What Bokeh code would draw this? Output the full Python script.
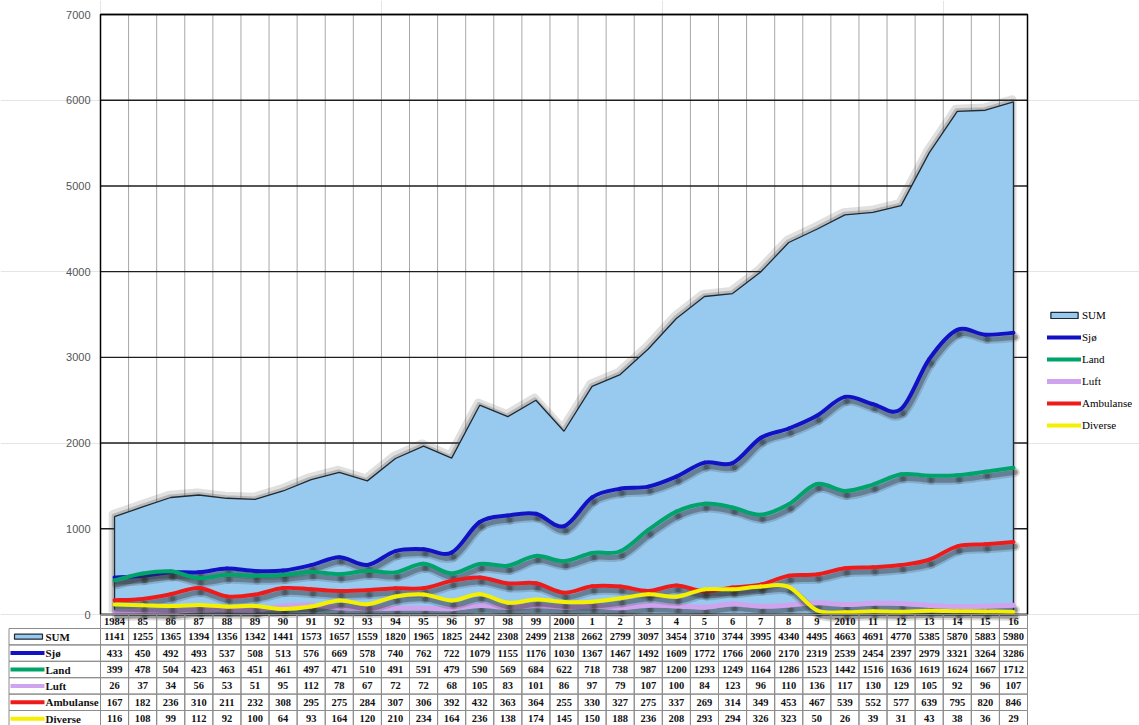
import numpy as np
from bokeh.plotting import figure
from bokeh.models import Range1d, Legend, LegendItem
from bokeh.core.properties import value
from bokeh.embed import file_html
from bokeh.resources import INLINE

# ---------------- data ----------------
years = ["1984", "85", "86", "87", "88", "89", "90", "91", "92", "93", "94", "95",
         "96", "97", "98", "99", "2000", "1", "2", "3", "4", "5", "6", "7", "8", "9",
         "2010", "11", "12", "13", "14", "15", "16"]
sum_total = [1141, 1255, 1365, 1394, 1356, 1342, 1441, 1573, 1657, 1559, 1820, 1965,
             1825, 2442, 2308, 2499, 2138, 2662, 2799, 3097, 3454, 3710, 3744, 3995,
             4340, 4495, 4663, 4691, 4770, 5385, 5870, 5883, 5980]
sjo = [433, 450, 492, 493, 537, 508, 513, 576, 669, 578, 740, 762, 722, 1079, 1155,
       1176, 1030, 1367, 1467, 1492, 1609, 1772, 1766, 2060, 2170, 2319, 2539, 2454,
       2397, 2979, 3321, 3264, 3286]
land = [399, 478, 504, 423, 463, 451, 461, 497, 471, 510, 491, 591, 479, 590, 569, 684,
        622, 718, 738, 987, 1200, 1293, 1249, 1164, 1286, 1523, 1442, 1516, 1636, 1619,
        1624, 1667, 1712]
luft = [26, 37, 34, 56, 53, 51, 95, 112, 78, 67, 72, 72, 68, 105, 83, 101, 86, 97, 79,
        107, 100, 84, 123, 96, 110, 136, 117, 130, 129, 105, 92, 96, 107]
ambulanse = [167, 182, 236, 310, 211, 232, 308, 295, 275, 284, 307, 306, 392, 432, 363,
             364, 255, 330, 327, 275, 337, 269, 314, 349, 453, 467, 539, 552, 577, 639,
             795, 820, 846]
diverse = [116, 108, 99, 112, 92, 100, 64, 93, 164, 120, 210, 234, 164, 236, 138, 174,
           145, 150, 188, 236, 208, 293, 294, 326, 323, 50, 26, 39, 31, 43, 38, 36, 29]
series_names = ["Sjø", "Land", "Luft", "Ambulanse", "Diverse"]
series_colors = ["#1212C4", "#00A36A", "#CFA3EE", "#EE1B1B", "#F4F000"]
series_widths = [4, 4, 5, 4, 4]
y_ticks = [0, 1000, 2000, 3000, 4000, 5000, 6000, 7000]

series_values = [sjo, land, luft, ambulanse, diverse]
AREA = "#98C9EF"
n = len(years)

# ---------------- layout helpers ----------------
W, H = 1139, 725
PX0 = 100.0           # picture x of plot-area left edge
U = 927.0 / n         # pixels per category
YB = 614.0            # picture y of value 0
YS = 7000.0 / 600.0   # value units per pixel


def px_x(px):
    return (px - PX0) / U


p = figure(width=W, height=H,
           x_range=Range1d(px_x(0), px_x(W)),
           y_range=Range1d((YB - H) * YS, YB * YS),
           output_backend="svg", toolbar_location=None,
           x_axis_location=None, y_axis_location=None, min_border=0)
p.outline_line_color = None
p.background_fill_color = "white"
p.border_fill_color = "white"
p.extra_y_ranges = {"tbl": Range1d(H - YB, -YB)}

xc = np.arange(n) + 0.5

# grid
p.segment(x0=[i for i in range(1, n)], x1=[i for i in range(1, n)],
          y0=0, y1=7000, line_color="#a8a8a8", line_width=1)
p.segment(x0=0, x1=n, y0=y_ticks, y1=y_ticks, line_color="#1e1e1e", line_width=1.4)

# y tick labels
p.text(x=px_x(90), y=y_ticks, text=[str(t) for t in y_ticks],
       text_align="right", text_baseline="middle", text_color="#555555",
       text_font=value("Liberation Sans"), text_font_size="11px")

# SUM area with soft shadow
edge_x = [xc[0]] + list(xc) + [xc[-1]]
edge_y = [0] + list(sum_total) + [0]
p.line(x=[v - 0.05 for v in edge_x], y=[v + 25 for v in edge_y],
       line_color="#404040", line_alpha=0.16, line_width=9, line_join="round")
p.line(x=[v - 0.03 for v in edge_x], y=[v + 12 for v in edge_y],
       line_color="#404040", line_alpha=0.25, line_width=4, line_join="round")
sum_r = p.patch(x=edge_x, y=edge_y, fill_color=AREA, line_color="#1f2a33",
                line_width=1.3)


def bez(vals):
    v = np.asarray(vals, float)
    xp = np.concatenate([[xc[0]], xc, [xc[-1]]])
    vp = np.concatenate([[v[0]], v, [v[-1]]])
    return dict(
        x0=xc[:-1], y0=v[:-1], x1=xc[1:], y1=v[1:],
        cx0=xc[:-1] + (xp[2:n + 1] - xp[0:n - 1]) / 6.0,
        cy0=v[:-1] + (vp[2:n + 1] - vp[0:n - 1]) / 6.0,
        cx1=xc[1:] - (xp[3:n + 2] - xp[1:n]) / 6.0,
        cy1=v[1:] - (vp[3:n + 2] - vp[1:n]) / 6.0,
    )


DX, DY = 0.07, -4.5 * YS
line_rs = []
for vals, col, lw in zip(series_values, series_colors, series_widths):
    b = bez(vals)
    sh = {k: (b[k] + DX if k.startswith(("x", "cx")) else b[k] + DY) for k in b}
    p.bezier(**sh, line_color="#303030", line_alpha=0.18, line_width=9, line_cap="round")
    p.bezier(**sh, line_color="#303030", line_alpha=0.36, line_width=5, line_cap="round")
    line_rs.append(p.bezier(**b, line_color=col, line_width=lw, line_cap="round"))

# frame outline
p.quad(left=0, right=n, bottom=0, top=7000, fill_color=None,
       line_color="black", line_width=1.5)

# ---------------- legend ----------------
items = [LegendItem(label="SUM", renderers=[sum_r])]
for name, r in zip(series_names, line_rs):
    items.append(LegendItem(label=name, renderers=[r]))
legend = Legend(items=items, location=(1047, 293), orientation="vertical",
                glyph_width=34, glyph_height=8, label_height=14, spacing=8,
                label_standoff=1, padding=0, margin=0,
                border_line_color=None, background_fill_alpha=0,
                label_text_font="Liberation Serif", label_text_font_size="11px",
                label_text_color="black")
p.add_layout(legend)

# ---------------- data table ----------------
row_edges = [0, 14, 30.4, 46.8, 63.2, 79.6, 96, 112.4]
cl, cr, ct, cb = [], [], [], []
for r in range(len(row_edges) - 1):
    for i in range(n):
        cl.append(i); cr.append(i + 1); ct.append(row_edges[r]); cb.append(row_edges[r + 1])
    if r >= 1:
        cl.append(px_x(8.5)); cr.append(0); ct.append(row_edges[r]); cb.append(row_edges[r + 1])
p.quad(left=cl, right=cr, top=ct, bottom=cb, fill_color=None,
       line_color="#8c8c8c", line_width=1, y_range_name="tbl")

tf = dict(text_font=value("Liberation Serif"), text_font_style="bold",
          text_align="center", text_baseline="middle", text_color="#111111",
          y_range_name="tbl")
p.text(x=xc, y=(row_edges[0] + row_edges[1]) / 2, text=years,
       text_font_size="10.5px", **tf)

table_names = ["SUM"] + series_names
table_values = [sum_total] + series_values
for k, (name, vals) in enumerate(zip(table_names, table_values)):
    mid = (row_edges[k + 1] + row_edges[k + 2]) / 2
    p.text(x=xc, y=mid, text=[str(v) for v in vals], text_font_size="10.5px", **tf)
    p.text(x=px_x(45), y=mid, text=[name], text_font=value("Liberation Serif"),
           text_font_style="bold", text_font_size="11px", text_align="left",
           text_baseline="middle", text_color="#111111", y_range_name="tbl")
    if k == 0:
        p.quad(left=px_x(14), right=px_x(42), top=mid - 2.5, bottom=mid + 2.5,
               fill_color=AREA, line_color="#1f2a33", line_width=1.2, y_range_name="tbl")
    else:
        p.segment(x0=px_x(10), x1=px_x(44), y0=mid, y1=mid,
                  line_color=series_colors[k - 1], line_width=4, y_range_name="tbl")

open("out.html", "w").write(file_html(p, INLINE))
